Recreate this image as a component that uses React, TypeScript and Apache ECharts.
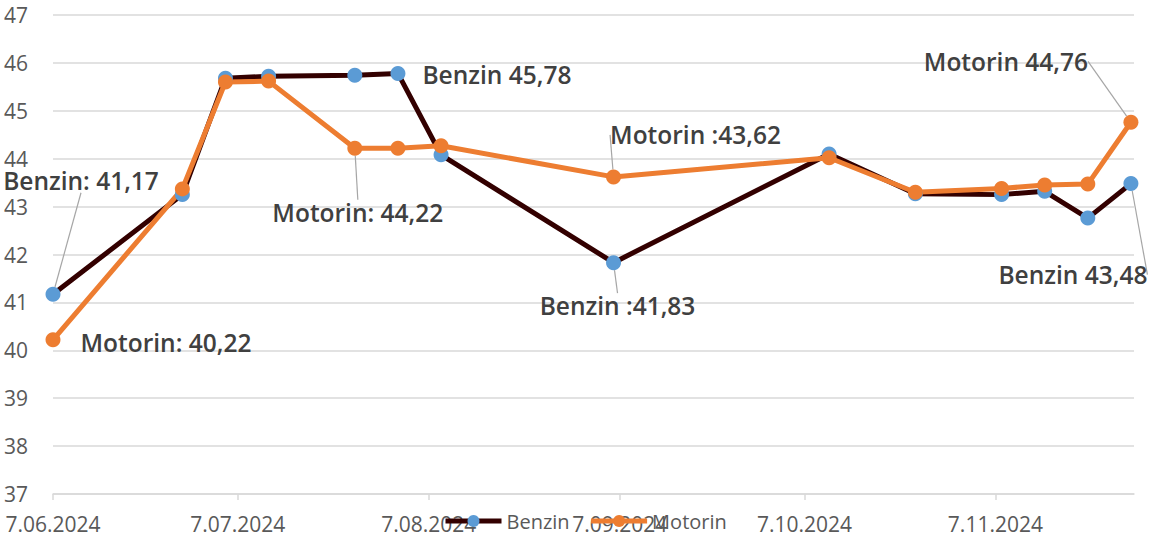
import React, { useEffect, useRef } from "react";
import * as echarts from "echarts";

const dates = [
  "2024-06-07", "2024-06-28", "2024-07-05", "2024-07-12", "2024-07-26", "2024-08-02", "2024-08-09",
  "2024-09-06", "2024-10-11", "2024-10-25", "2024-11-08", "2024-11-15", "2024-11-22", "2024-11-29",
];
const benzin = [41.17, 43.25, 45.68, 45.72, 45.74, 45.78, 44.08, 41.83, 44.1, 43.27, 43.25, 43.32, 42.76, 43.48];
const motorin = [40.22, 43.37, 45.6, 45.62, 44.22, 44.22, 44.27, 43.62, 44.02, 43.3, 43.38, 43.45, 43.47, 44.76];
const tickDates = ["2024-06-07", "2024-07-07", "2024-08-07", "2024-09-07", "2024-10-07", "2024-11-07"];

// labels: index -> text, offset of label centre from the point, whether a leader line is drawn
const benzinLabels: Record<number, { text: string; dx: number; dy: number; line: boolean }> = {
  0: { text: "Benzin: 41,17", dx: 28, dy: -114, line: true },
  5: { text: "Benzin 45,78", dx: 99, dy: 1, line: false },
  7: { text: "Benzin :41,83", dx: 4, dy: 43, line: true },
  13: { text: "Benzin 43,48", dx: -58, dy: 91, line: true },
};
const motorinLabels: Record<number, { text: string; dx: number; dy: number; line: boolean }> = {
  0: { text: "Motorin: 40,22", dx: 113, dy: 3, line: false },
  4: { text: "Motorin: 44,22", dx: 3, dy: 64, line: true },
  7: { text: "Motorin :43,62", dx: 82, dy: -42, line: true },
  13: { text: "Motorin 44,76", dx: -125, dy: -61, line: true },
};

const ts = (s: string) => Date.parse(s + "T00:00:00Z");
const FONT = "'Open Sans', 'Noto Sans', sans-serif";

function buildData(values: number[], labels: Record<number, { text: string; line: boolean }>) {
  return values.map((v, i) => {
    const l = labels[i];
    return {
      value: [ts(dates[i]), v],
      label: l ? { show: true, formatter: l.text } : { show: false },
      labelLine: { show: l ? l.line : false },
    };
  });
}

const labelStyle = {
  position: "inside" as const,
  color: "#404040",
  fontSize: 24.5,
  fontWeight: 600 as const,
  fontFamily: FONT,
};

export default function App() {
  const ref = useRef<HTMLDivElement>(null);
  useEffect(() => {
    if (!ref.current) return;
    const chart = echarts.init(ref.current, undefined, { renderer: "svg" });
    const fmt = (v: number) => {
      const d = new Date(v);
      return `${d.getUTCDate()}.${String(d.getUTCMonth() + 1).padStart(2, "0")}.${d.getUTCFullYear()}`;
    };
    chart.setOption({
      animation: false,
      textStyle: { fontFamily: FONT },
      grid: { left: 53, right: 25, top: 15, bottom: 46, containLabel: false },
      legend: {
        bottom: 4,
        left: 438,
        itemWidth: 56,
        itemHeight: 15,
        itemGap: 19,
        lineStyle: { width: 5 },
        textStyle: { color: "#595959", fontSize: 20, fontFamily: FONT },
        data: ["Benzin", "Motorin"],
      },
      xAxis: {
        type: "value",
        min: ts("2024-06-07"),
        max: ts("2024-11-29") + 12 * 3600 * 1000,
        splitLine: { show: false },
        axisLine: { show: true, lineStyle: { color: "#d9d9d9", width: 1.5 } },
        axisTick: {
          show: true,
          length: 6,
          lineStyle: { color: "#d9d9d9", width: 1.5 },
          customValues: tickDates.map(ts),
        },
        axisLabel: {
          color: "#595959",
          fontSize: 21,
          fontFamily: FONT,
          margin: 19,
          customValues: tickDates.map(ts),
          formatter: fmt,
        },
      },
      yAxis: {
        type: "value",
        min: 37,
        max: 47,
        interval: 1,
        axisLine: { show: false },
        axisTick: { show: false },
        splitLine: { lineStyle: { color: "#d9d9d9", width: 1.5 } },
        axisLabel: { color: "#595959", fontSize: 21, fontFamily: FONT, margin: 25 },
      },
      series: [
        {
          name: "Benzin",
          type: "line",
          data: buildData(benzin, benzinLabels),
          symbol: "circle",
          symbolSize: 15,
          itemStyle: { color: "#5b9bd5" },
          lineStyle: { color: "#330000", width: 5 },
          label: labelStyle,
          labelLine: { show: true, lineStyle: { color: "#a6a6a6", width: 1.2 } },
          labelLayout: (p: any) => {
            const l = benzinLabels[p.dataIndex];
            return l ? { dx: l.dx, dy: l.dy } : {};
          },
        },
        {
          name: "Motorin",
          type: "line",
          data: buildData(motorin, motorinLabels),
          symbol: "circle",
          symbolSize: 15,
          itemStyle: { color: "#ed7d31" },
          lineStyle: { color: "#ed7d31", width: 5 },
          label: labelStyle,
          labelLine: { show: true, lineStyle: { color: "#a6a6a6", width: 1.2 } },
          labelLayout: (p: any) => {
            const l = motorinLabels[p.dataIndex];
            return l ? { dx: l.dx, dy: l.dy } : {};
          },
        },
      ],
    });
    return () => chart.dispose();
  }, []);
  return <div ref={ref} style={{ width: 1159, height: 540, position: "absolute", left: 0, top: 0 }} />;
}
